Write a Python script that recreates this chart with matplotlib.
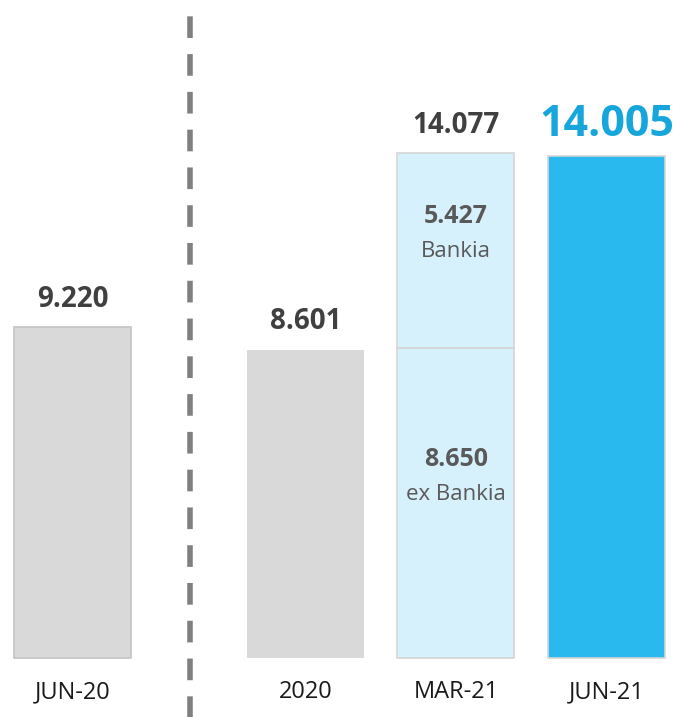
import matplotlib.pyplot as plt
from matplotlib.lines import Line2D

plt.rcParams['font.family'] = ['Open Sans', 'DejaVu Sans']

# data
categories = ['JUN-20', '2020', 'MAR-21', 'JUN-21']
totals = [9.220, 8.601, 14.077, 14.005]
total_labels = ['9.220', '8.601', '14.077', '14.005']
exbankia = 8.650
bankia = 5.427
seg_values = ['8.650', '5.427']
seg_names = ['ex Bankia', 'Bankia']

# layout (bar units)
xpos = [0, 1.548, 2.548, 3.548]
width = 0.777
gray = '#d9d9d9'
light = '#d6f1fb'
blue = '#2ab9ee'

fig = plt.figure(figsize=(6.79, 7.17), dpi=100)
ax = fig.add_axes([0, 0, 1, 1])
ax.set_xlim(-0.4817, 4.03)
ax.set_ylim(-1.646, 18.35)
ax.axis('off')

ax.bar(xpos[0], totals[0], width, color=gray, edgecolor='#c4c4c4', linewidth=1.2)
ax.bar(xpos[1], totals[1], width, color=gray, linewidth=0)
ax.bar(xpos[2], exbankia, width, color=light, edgecolor='#d5d5d5', linewidth=1.2)
ax.bar(xpos[2], bankia, width, bottom=exbankia, color=light, edgecolor='#d5d5d5', linewidth=1.2)
ax.bar(xpos[3], totals[3], width, color=blue, edgecolor='#d5d5d5', linewidth=1.2)

# value labels above bars
for i in range(3):
    ax.text(xpos[i], totals[i] + 0.57, total_labels[i], ha='center', va='baseline',
            fontsize=20, fontweight='bold', color='#404040')
ax.text(xpos[3], totals[3] + 0.56, total_labels[3], ha='center', va='baseline',
        fontsize=31, fontweight='bold', color='#16a6dc')

# segment labels inside MAR-21
mids = [exbankia / 2, exbankia + bankia / 2]
shift = [1.2, 0.95]
for m, s, v, n in zip(mids, shift, seg_values, seg_names):
    ax.text(xpos[2], m + s, v, ha='center', va='center', fontsize=18,
            fontweight='bold', color='#595959')
    ax.text(xpos[2], m + s - 0.97, n, ha='center', va='center', fontsize=16,
            color='#595959')

# category labels
for x, c in zip(xpos, categories):
    ax.text(x, -0.95, c, ha='center', va='center', fontsize=17, color='#1a1a1a')

# dashed separator
sep = Line2D([0.78, 0.78], [-1.7, 18.0], color='#808080', linewidth=4.0,
             linestyle=(0, (3.9, 2.9)), transform=ax.transData)
ax.add_line(sep)

fig.savefig('out.png', dpi=100)
